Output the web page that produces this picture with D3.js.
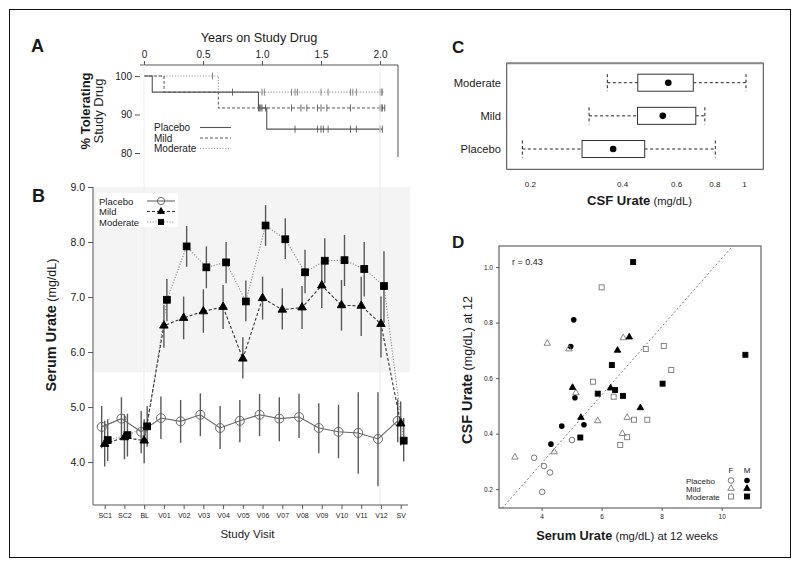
<!DOCTYPE html>
<html><head><meta charset="utf-8">
<script src="https://cdn.jsdelivr.net/npm/d3@7"></script>
<style>body{margin:0;background:#fff} text{font-family:"Liberation Sans",Arial,sans-serif;fill:#1a1a1a}</style>
</head><body><svg id="c" width="800" height="567"></svg>
<script>
// ---------- DATA ----------
// Panel A: Kaplan-Meier (% tolerating study drug)
const kmGroups = ["Placebo", "Mild", "Moderate"];
const placeboEventT = [0.07, 0.97, 1.04];
const placeboEventS = [95.8, 91.7, 86.2];
const placeboEnd = 2.02;
const mildEventT = [0.17, 0.63];
const mildEventS = [95.8, 91.7];
const mildEnd = 2.05;
const modEventT = [0.63];
const modEventS = [95.8];
const modEnd = 2.03;
const placeboCensor = [0.75, 1.28, 1.47, 1.5, 1.52, 1.56, 1.75, 1.8, 2.0, 2.02];
const mildCensor = [0.97, 0.98, 0.99, 1.0, 1.03, 1.25, 1.33, 1.38, 1.47, 1.5, 1.55, 1.75, 2.0, 2.01, 2.02, 2.04];
const modCensor = [0.58, 1.0, 1.02, 1.25, 1.28, 1.3, 1.5, 1.56, 1.75, 1.77, 1.8, 2.0, 2.01, 2.02];
const aTicksX = [0, 0.5, 1.0, 1.5, 2.0];
const aTicksY = [80, 90, 100];

// Panel B: serum urate by visit
const bCats = ["SC1","SC2","BL","V01","V02","V03","V04","V05","V06","V07","V08","V09","V10","V11","V12","SV"];
const placeboMean = [4.64,4.79,4.55,4.80,4.74,4.86,4.62,4.75,4.86,4.79,4.82,4.62,4.55,4.53,4.42,4.75];
const placeboLo   = [4.25,4.41,4.16,4.42,4.35,4.47,4.24,4.36,4.47,4.38,4.44,4.16,4.07,3.79,3.56,4.36];
const placeboHi   = [5.02,5.18,4.93,5.19,5.13,5.25,5.02,5.13,5.24,5.18,5.24,5.07,5.04,5.27,5.27,5.14];
const mildMean = [4.33,4.45,4.39,6.48,6.62,6.74,6.82,5.88,6.98,6.77,6.81,7.21,6.85,6.84,6.51,4.70];
const mildLo   = [3.92,4.05,3.98,6.08,6.23,6.35,6.42,5.52,6.59,6.41,6.42,6.80,6.39,6.29,5.90,4.30];
const mildHi   = [4.75,4.87,4.78,6.86,7.01,7.14,7.22,6.27,7.37,7.16,7.20,7.61,7.31,7.37,7.01,5.10];
const modMean = [4.40,4.49,4.65,6.95,7.92,7.54,7.63,6.92,8.30,8.05,7.45,7.66,7.67,7.51,7.20,4.39];
const modLo   = [4.02,4.10,4.28,6.56,7.55,7.16,7.25,6.56,7.93,7.69,7.07,7.25,7.20,7.01,6.53,4.01];
const modHi   = [4.78,4.88,5.02,7.33,8.29,7.92,8.00,7.30,8.67,8.43,7.86,8.07,8.13,8.00,7.83,4.80];
const bTicksY = [4, 5, 6, 7, 8, 9];
const bBand = [5.63, 9.0];

// Panel C: CSF urate box plots
const cGroups = ["Moderate", "Mild", "Placebo"];
const cWhiskerLo = [0.358, 0.312, 0.189];
const cQ1 = [0.450, 0.449, 0.296];
const cMedian = [0.566, 0.543, 0.374];
const cQ3 = [0.683, 0.696, 0.474];
const cWhiskerHi = [1.015, 0.745, 0.806];
const cTicks = [0.2, 0.4, 0.6, 0.8, 1];

// Panel D: CSF vs serum urate
const placeboFx = [5.01,3.75,4.08,4.28,4.02];
const placeboFy = [0.377,0.313,0.283,0.26,0.19];
const placeboMx = [5.07,4.97,5.11,4.67,5.41,4.31];
const placeboMy = [0.81,0.714,0.529,0.427,0.432,0.362];
const mildFx = [4.19,4.91,6.72,5.14,5.87,6.85,6.69,4.42,3.11];
const mildFy = [0.725,0.705,0.745,0.547,0.446,0.458,0.40,0.334,0.315];
const mildMx = [6.92,6.53,5.03,6.30,7.29,5.31];
const mildMy = [0.748,0.70,0.566,0.564,0.493,0.458];
const modFx = [6.0,7.47,8.07,8.32,5.71,6.40,7.08,7.52,6.85,6.62];
const modFy = [0.927,0.705,0.716,0.629,0.587,0.533,0.45,0.45,0.387,0.359];
const modMx = [7.05,10.79,6.34,8.03,6.45,5.87,6.71,5.29];
const modMy = [1.018,0.684,0.647,0.58,0.557,0.544,0.536,0.386];
const regIntercept = -0.199, regSlope = 0.123;
const dTicksX = [4, 6, 8, 10];
const dTicksY = [0.2, 0.4, 0.6, 0.8, 1.0];

// ---------- DRAW ----------
const svg = d3.select("#c");
svg.append("rect").attr("x",9.5).attr("y",9.5).attr("width",781).attr("height",548)
  .attr("fill","none").attr("stroke","#111");

function txt(g, x, y, s, size, opts={}) {
  const t = g.append("text").attr("x",x).attr("y",y).attr("font-size",size).text(s);
  if (opts.anchor) t.attr("text-anchor",opts.anchor);
  if (opts.bold) t.attr("font-weight","bold");
  return t;
}
function mixed(g, x, y, parts, anchor, rotate) {
  const t = g.append("text").attr("text-anchor",anchor||"start");
  if (rotate) t.attr("transform",`translate(${x},${y}) rotate(-90)`);
  else t.attr("x",x).attr("y",y);
  parts.forEach(p => t.append("tspan").text(p[0]).attr("font-size",p[1]).attr("font-weight",p[2]?"bold":"normal"));
  return t;
}
function styleAxis(g, fs) {
  g.selectAll("path.domain").remove();
  g.selectAll("line").attr("stroke","#555");
  g.selectAll("text").attr("font-size",fs).attr("fill","#222").attr("font-family",'"Liberation Sans",Arial,sans-serif');
}

// ===== Panel A =====
const xA = d3.scaleLinear([0,2],[144,380]);
const yA = d3.scaleLinear([80,100],[153,76]);
const gA = svg.append("g");

// guide lines shared by A and B
const guides = svg.append("g");

txt(gA, 31, 52, "A", 18, {bold:true});
txt(gA, 259, 42, "Years on Study Drug", 12.7, {anchor:"middle"});
const axTop = gA.append("g").attr("transform","translate(0,65)")
  .call(d3.axisTop(xA).tickValues(aTicksX).tickSize(4).tickPadding(3)
    .tickFormat(d => d===0 ? "0" : d3.format(".1f")(d)));
styleAxis(axTop, 10);
const axLeftA = gA.append("g").attr("transform","translate(140,0)")
  .call(d3.axisLeft(yA).tickValues(aTicksY).tickSize(5).tickPadding(3));
styleAxis(axLeftA, 10);
gA.append("line").attr("x1",140).attr("x2",398).attr("y1",65).attr("y2",65).attr("stroke","#555");
gA.append("line").attr("x1",398).attr("x2",398).attr("y1",65).attr("y2",157).attr("stroke","#555");
mixed(gA, 90, 111, [["% Tolerating",13,true]], "middle", true);
mixed(gA, 103, 111, [["Study Drug",13,false]], "middle", true);

const kmDefs = [
  {t:modEventT, s:modEventS, end:modEnd, cens:modCensor, color:"#9a9a9a", dash:"1.2,1.6", w:1.2},
  {t:mildEventT, s:mildEventS, end:mildEnd, cens:mildCensor, color:"#555", dash:"3,2", w:1},
  {t:placeboEventT, s:placeboEventS, end:placeboEnd, cens:placeboCensor, color:"#555", dash:null, w:1.1}
];
const stepLine = d3.line().x(d=>xA(d[0])).y(d=>yA(d[1])).curve(d3.curveStepAfter);
kmDefs.forEach(k => {
  const pts = [[0,100]];
  k.t.forEach((t,i)=>pts.push([t,k.s[i]]));
  pts.push([k.end, k.s[k.s.length-1]]);
  const p = gA.append("path").attr("d",stepLine(pts)).attr("fill","none")
    .attr("stroke",k.color).attr("stroke-width",k.w);
  if (k.dash) p.attr("stroke-dasharray",k.dash);
  const survAt = tt => { let s=100; k.t.forEach((t,i)=>{ if (t<=tt) s=k.s[i]; }); return s; };
  k.cens.forEach(c => {
    const y = yA(survAt(c));
    gA.append("line").attr("x1",xA(c)).attr("x2",xA(c)).attr("y1",y-3.5).attr("y2",y+3.5)
      .attr("stroke",k.color==="#9a9a9a"?"#777":k.color).attr("stroke-width",0.9);
  });
});
// legend A
const legA = [["Placebo",null,"#555"],["Mild","3,2","#555"],["Moderate","1.2,1.6","#9a9a9a"]];
legA.forEach((l,i) => {
  const y = 127.5 + i*10.5;
  txt(gA, 154, y+3.5, l[0], 10);
  const ln = gA.append("line").attr("x1",200).attr("x2",231).attr("y1",y).attr("y2",y)
    .attr("stroke",l[2]).attr("stroke-width",1.1);
  if (l[1]) ln.attr("stroke-dasharray",l[1]);
});

// ===== Panel B =====
const xB = d3.scalePoint(bCats,[104.7,400.7]);
const yB = d3.scaleLinear([3.22,9],[505,187]);
const gB = svg.insert("g", "g");
gB.append("rect").attr("x",93).attr("y",yB(bBand[1])).attr("width",317)
  .attr("height",yB(bBand[0])-yB(bBand[1])).attr("fill","#f4f4f4");
[0,2].forEach(t => guides.append("line").attr("x1",xA(t)).attr("x2",xA(t))
  .attr("y1",65).attr("y2",505).attr("stroke","#ececec").attr("stroke-width",1));
const gB2 = svg.append("g");
txt(gB2, 32, 202, "B", 18, {bold:true});
const axLB = gB2.append("g").attr("transform","translate(93,0)")
  .call(d3.axisLeft(yB).tickValues(bTicksY).tickSize(5).tickPadding(3).tickFormat(d3.format(".1f")));
styleAxis(axLB, 10.5);
const axBB = gB2.append("g").attr("transform","translate(0,505)")
  .call(d3.axisBottom(xB).tickSize(4).tickPadding(4));
styleAxis(axBB, 7);
gB2.append("line").attr("x1",93).attr("x2",93).attr("y1",187).attr("y2",505).attr("stroke","#555");
gB2.append("line").attr("x1",93).attr("x2",408).attr("y1",505).attr("y2",505).attr("stroke","#555");
txt(gB2, 247.5, 538, "Study Visit", 11.5, {anchor:"middle"});
mixed(gB2, 56, 325, [["Serum Urate",14.5,true],[" (mg/dL)",12.5,false]], "middle", true);

const bSeries = [
  {mean:placeboMean, lo:placeboLo, hi:placeboHi, off:-3, color:"#666", dash:null, sym:"circle"},
  {mean:mildMean, lo:mildLo, hi:mildHi, off:0, color:"#333", dash:"3,2", sym:"triangle"},
  {mean:modMean, lo:modLo, hi:modHi, off:3, color:"#8a8a8a", dash:"1.2,1.6", sym:"square"}
];
// error bars
bSeries.forEach(s => {
  bCats.forEach((c,i) => {
    gB2.append("line").attr("x1",xB(c)+s.off).attr("x2",xB(c)+s.off)
      .attr("y1",yB(s.lo[i])).attr("y2",yB(s.hi[i])).attr("stroke","#5a5a5a").attr("stroke-width",1.4);
  });
});
// lines
bSeries.slice().reverse().forEach(s => {
  const line = d3.line().x((d,i)=>xB(bCats[i])+s.off).y(d=>yB(d));
  const p = gB2.append("path").attr("d",line(s.mean)).attr("fill","none")
    .attr("stroke",s.color).attr("stroke-width",1.1);
  if (s.dash) p.attr("stroke-dasharray",s.dash);
});
function drawSym(g, type, x, y, size) {
  // size: "big" (panel B), "mid" (legend B), "small" (panel D)
  const cr = {big:4.5, mid:3.6, small:2.8}[size];
  const ts = {big:8.5, mid:6.8, small:6.5}[size];
  const ss = {big:6.8, mid:5.2, small:5}[size];
  if (type==="circle") {
    g.append("circle").attr("cx",x).attr("cy",y).attr("r",cr)
      .attr("fill","none").attr("stroke",size==="small"?"#777":"#666").attr("stroke-width",1);
  } else if (type==="circleF") {
    g.append("circle").attr("cx",x).attr("cy",y).attr("r",cr).attr("fill","#000");
  } else if (type==="triangle" || type==="triangleO") {
    g.append("path").attr("d",d3.symbol(d3.symbolTriangle, Math.sqrt(3)/4*ts*ts)())
      .attr("transform",`translate(${x},${y})`)
      .attr("fill",type==="triangle"?"#000":"none").attr("stroke",type==="triangle"?"#000":"#777").attr("stroke-width",0.9);
  } else {
    g.append("rect").attr("x",x-ss/2).attr("y",y-ss/2).attr("width",ss).attr("height",ss)
      .attr("fill",type==="square"?"#000":"none").attr("stroke",type==="square"?"#000":"#777").attr("stroke-width",0.9);
  }
}
bSeries.forEach(s => {
  s.mean.forEach((v,i) => drawSym(gB2, s.sym, xB(bCats[i])+s.off, yB(v), "big"));
});
// legend B
gB2.append("rect").attr("x",96).attr("y",193).attr("width",82).attr("height",34).attr("fill","#fff");
const legB = [["Placebo",bSeries[0]],["Mild",bSeries[1]],["Moderate",bSeries[2]]];
legB.forEach((l,i) => {
  const y = 201 + i*10.5;
  txt(gB2, 99, y+3.5, l[0], 9.5);
  const ln = gB2.append("line").attr("x1",147).attr("x2",175).attr("y1",y).attr("y2",y)
    .attr("stroke",l[1].color).attr("stroke-width",1.1);
  if (l[1].dash) ln.attr("stroke-dasharray",l[1].dash);
  drawSym(gB2, l[1].sym, 161, y, "mid");
});

// ===== Panel C =====
const xC = d3.scaleLog([0.168,1.156],[506.7,763.3]);
const yC = d3.scalePoint(cGroups,[82.7,149]);
const gC = svg.append("g");
txt(gC, 452, 53, "C", 17, {bold:true});
gC.append("rect").attr("x",506.7).attr("y",63.3).attr("width",256.6).attr("height",106)
  .attr("fill","none").attr("stroke","#444").attr("stroke-width",1);
gC.append("line").attr("x1",506.7).attr("x2",763.3).attr("y1",63.3).attr("y2",63.3)
  .attr("stroke","#888").attr("stroke-width",2);
const axC = gC.append("g").attr("transform","translate(0,175)")
  .call(d3.axisBottom(xC).tickValues(cTicks).tickSize(0).tickPadding(6).tickFormat(d => d===1?"1":d3.format(".1f")(d)));
styleAxis(axC, 8);
mixed(gC, 639.5, 205, [["CSF Urate",13.1,true],[" (mg/dL)",11.2,false]], "middle", false);
const bh = 8.5;
cGroups.forEach((g,i) => {
  const y = yC(g);
  txt(gC, 501, y+4, g, 11.2, {anchor:"end"});
  [[cWhiskerLo[i],cQ1[i]],[cQ3[i],cWhiskerHi[i]]].forEach(w => {
    gC.append("line").attr("x1",xC(w[0])).attr("x2",xC(w[1])).attr("y1",y).attr("y2",y)
      .attr("stroke","#222").attr("stroke-dasharray","3,2.5");
  });
  [cWhiskerLo[i], cWhiskerHi[i]].forEach(v => {
    gC.append("line").attr("x1",xC(v)).attr("x2",xC(v)).attr("y1",y-bh).attr("y2",y+bh)
      .attr("stroke","#222").attr("stroke-dasharray","3,2.5");
  });
  gC.append("rect").attr("x",xC(cQ1[i])).attr("y",y-bh).attr("width",xC(cQ3[i])-xC(cQ1[i]))
    .attr("height",2*bh).attr("fill","#fff").attr("stroke","#333");
  gC.append("circle").attr("cx",xC(cMedian[i])).attr("cy",y).attr("r",3.3).attr("fill","#000");
});

// ===== Panel D =====
const xD = d3.scaleLinear([2.58,11.31],[499,761]);
const yD = d3.scaleLinear([0.132,1.076],[508,246]);
const gD = svg.append("g");
txt(gD, 452, 248, "D", 17, {bold:true});
const defs = svg.append("defs");
defs.append("clipPath").attr("id","clipD").append("rect")
  .attr("x",499).attr("y",246).attr("width",262).attr("height",262);
gD.append("line").attr("clip-path","url(#clipD)")
  .attr("x1",xD(2.5)).attr("y1",yD(regIntercept+regSlope*2.5))
  .attr("x2",xD(11)).attr("y2",yD(regIntercept+regSlope*11))
  .attr("stroke","#777").attr("stroke-width",1).attr("stroke-dasharray","2,2.2");
gD.append("rect").attr("x",499).attr("y",246).attr("width",262).attr("height",262)
  .attr("fill","none").attr("stroke","#444");
const axDL = gD.append("g").attr("transform","translate(499,0)")
  .call(d3.axisLeft(yD).tickValues(dTicksY).tickSize(3).tickPadding(3).tickFormat(d3.format(".1f")));
styleAxis(axDL, 6.5);
const axDB = gD.append("g").attr("transform","translate(0,508)")
  .call(d3.axisBottom(xD).tickValues(dTicksX).tickSize(3).tickPadding(3));
styleAxis(axDB, 6.5);
txt(gD, 512, 265, "r =  0.43", 9);
mixed(gD, 627, 540, [["Serum Urate",12.8,true],[" (mg/dL) at 12 weeks",11.3,false]], "middle", false);
mixed(gD, 472, 370, [["CSF Urate",14.5,true],[" (mg/dL) at 12",12.5,false]], "middle", true);

const dSets = [
  [placeboFx, placeboFy, "circle"], [placeboMx, placeboMy, "circleF"],
  [mildFx, mildFy, "triangleO"], [mildMx, mildMy, "triangle"],
  [modFx, modFy, "squareO"], [modMx, modMy, "square"]
];
dSets.forEach(s => s[0].forEach((x,i) => drawSym(gD, s[2], xD(x), yD(s[1][i]), "small")));
// legend D
txt(gD, 731, 473, "F", 8, {anchor:"middle"});
txt(gD, 747, 473, "M", 8, {anchor:"middle"});
[["Placebo","circle","circleF"],["Mild","triangleO","triangle"],["Moderate","squareO","square"]].forEach((l,i) => {
  const y = 480.5 + i*8;
  txt(gD, 686, y+3, l[0], 8);
  drawSym(gD, l[1], 731, y, "small");
  drawSym(gD, l[2], 747, y, "small");
});
</script></body></html>
